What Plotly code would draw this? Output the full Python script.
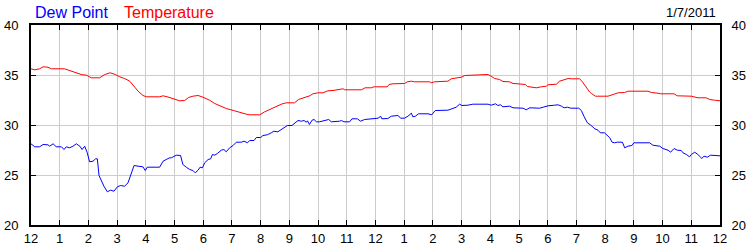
import plotly.graph_objects as go

# Hours since midnight (0..24) and readings
temp_hours = [0, 0.13, 0.3, 0.42, 0.59, 0.71, 1.17, 1.35, 1.52, 1.64, 1.75, 1.93, 2.1, 2.39, 2.57, 2.76,
              2.94, 3.09, 3.26, 3.44, 3.59, 3.73, 3.9, 4.02, 4.48, 4.6, 4.77, 5.0, 5.18, 5.35, 5.49, 5.64,
              5.82, 5.99, 6.22, 6.4, 6.63, 6.8, 7.09, 7.27, 7.5, 7.62, 7.97, 8.14, 8.31, 8.49, 8.72, 8.89,
              9.18, 9.32, 9.53, 9.71, 9.82, 10.0, 10.17, 10.34, 10.52, 10.69, 10.87, 10.93, 11.51, 11.64,
              11.85, 11.95, 12.41, 12.47, 12.61, 13.01, 13.11, 13.25, 13.36, 13.88, 13.96, 14.05, 14.52,
              14.64, 14.81, 14.99, 15.11, 15.34, 15.46, 15.92, 16.03, 16.15, 16.32, 16.44, 16.67, 16.79,
              16.96, 17.22, 17.29, 17.43, 17.6, 17.78, 17.95, 18.01, 18.3, 18.41, 18.59, 18.71, 18.82,
              19.11, 19.19, 19.28, 19.38, 19.46, 19.52, 19.66, 20.1, 20.27, 20.45, 20.68, 20.79, 21.49,
              21.61, 21.84, 21.93, 22.4, 22.51, 23.0, 23.23, 23.52, 23.64, 23.81, 24.0]
temperature = [35.62, 35.52, 35.62, 35.82, 35.78, 35.62, 35.62, 35.45, 35.28, 35.22, 35.05, 34.98, 34.72,
               34.72, 35.05, 35.22, 35.05, 34.82, 34.65, 34.38, 33.88, 33.38, 32.95, 32.82, 32.82, 32.92,
               32.8, 32.55, 32.42, 32.45, 32.75, 32.88, 32.95, 32.78, 32.48, 32.15, 31.82, 31.65, 31.42,
               31.25, 31.08, 31.02, 31.02, 31.32, 31.55, 31.82, 32.08, 32.22, 32.22, 32.55, 32.72, 32.92,
               33.12, 33.22, 33.22, 33.42, 33.45, 33.55, 33.62, 33.52, 33.52, 33.72, 33.72, 33.82, 33.82,
               34.05, 34.12, 34.15, 34.32, 34.38, 34.32, 34.32, 34.22, 34.32, 34.38, 34.62, 34.72, 34.78,
               34.95, 34.98, 35.05, 35.05, 34.88, 34.65, 34.55, 34.35, 34.32, 34.15, 34.12, 34.05, 33.85,
               33.82, 33.72, 33.82, 33.88, 34.02, 34.08, 34.38, 34.58, 34.65, 34.62, 34.62, 34.38, 33.98,
               33.55, 33.3, 33.15, 32.88, 32.88, 33.05, 33.22, 33.25, 33.38, 33.38, 33.25, 33.18, 33.12,
               33.12, 32.92, 32.88, 32.72, 32.72, 32.55, 32.48, 32.42]

dew_hours = [0, 0.13, 0.3, 0.42, 0.59, 0.65, 0.77, 0.88, 1.06, 1.15, 1.23, 1.35, 1.46, 1.58, 1.7, 1.78,
             1.87, 1.96, 2.04, 2.16, 2.25, 2.31, 2.37, 2.45, 2.54, 2.66, 2.77, 2.89, 3.01, 3.12, 3.26, 3.38,
             3.47, 3.59, 3.73, 3.9, 3.98, 4.05, 4.48, 4.6, 4.71, 4.83, 4.89, 5.06, 5.21, 5.29, 5.41, 5.53,
             5.64, 5.72, 5.82, 5.89, 5.97, 6.05, 6.17, 6.26, 6.32, 6.4, 6.49, 6.63, 6.72, 6.8, 6.92, 7.04,
             7.15, 7.33, 7.42, 7.54, 7.62, 7.77, 7.85, 8.0, 8.08, 8.23, 8.37, 8.46, 8.6, 8.72, 8.84, 8.93,
             9.09, 9.18, 9.3, 9.42, 9.51, 9.59, 9.63, 9.7, 9.79, 9.86, 9.94, 10.05, 10.17, 10.29, 10.37,
             10.46, 10.63, 10.75, 10.81, 10.9, 11.1, 11.18, 11.37, 11.48, 11.62, 11.91, 12.09, 12.18, 12.22,
             12.43, 12.55, 12.78, 12.88, 13.01, 13.13, 13.25, 13.3, 13.39, 13.5, 13.83, 13.96, 14.08, 14.52,
             14.66, 14.81, 14.93, 15.01, 15.22, 15.39, 15.92, 16.03, 16.18, 16.26, 16.35, 16.44, 16.67,
             16.79, 17.14, 17.25, 17.37, 17.72, 17.84, 18.01, 18.24, 18.36, 18.48, 18.57, 18.69, 18.8,
             19.08, 19.17, 19.26, 19.38, 19.5, 19.64, 19.75, 19.83, 19.98, 20.08, 20.16, 20.24, 20.33,
             20.42, 20.6, 20.68, 20.79, 20.93, 21.0, 21.55, 21.66, 21.9, 22.01, 22.19, 22.28, 22.4, 22.51,
             22.65, 22.71, 22.83, 22.94, 23.0, 23.12, 23.23, 23.37, 23.44, 23.56, 23.67, 23.87, 24.0]
dew_point = [28.12, 27.82, 27.82, 28.05, 28.02, 27.88, 28.12, 27.82, 27.82, 27.55, 27.82, 27.72, 27.88,
             28.12, 27.88, 27.55, 27.88, 27.22, 26.32, 26.38, 26.62, 26.62, 24.95, 24.38, 23.88, 23.32,
             23.48, 23.38, 23.82, 23.95, 23.88, 24.22, 25.0, 25.95, 25.88, 25.82, 25.45, 25.78, 25.78,
             26.38, 26.55, 26.72, 26.72, 26.98, 26.95, 26.05, 25.78, 25.55, 25.45, 25.22, 25.48, 25.78,
             25.72, 26.22, 26.55, 26.62, 27.05, 26.98, 27.15, 27.48, 27.55, 27.32, 27.72, 27.95, 28.28,
             28.28, 28.38, 28.22, 28.45, 28.45, 28.75, 28.75, 28.95, 29.02, 29.22, 29.38, 29.32, 29.55,
             29.82, 29.95, 29.95, 30.15, 30.45, 30.38, 30.45, 30.28, 30.42, 30.05, 30.48, 30.55, 30.32,
             30.32, 30.38, 30.48, 30.55, 30.32, 30.32, 30.38, 30.45, 30.32, 30.32, 30.62, 30.62, 30.38,
             30.55, 30.62, 30.68, 30.88, 30.62, 30.65, 30.88, 30.95, 30.68, 30.68, 30.88, 31.18, 30.82,
             30.88, 31.12, 31.12, 31.02, 31.45, 31.48, 31.62, 31.78, 32.08, 31.95, 31.98, 32.08, 32.08,
             31.98, 32.12, 31.95, 32.02, 31.82, 31.88, 31.72, 31.68, 31.52, 31.72, 31.68, 31.78, 31.92,
             31.98, 32.02, 31.88, 31.72, 31.78, 31.68, 31.68, 31.45, 30.88, 30.22, 29.98, 29.62, 29.48,
             29.22, 29.22, 28.95, 28.72, 28.28, 28.22, 28.28, 28.28, 27.72, 27.88, 27.95, 28.22, 28.22,
             27.98, 27.88, 27.65, 27.48, 27.28, 27.65, 27.48, 27.45, 27.22, 27.05, 26.82, 27.05, 27.28,
             27.05, 26.65, 26.88, 26.78, 26.98, 26.98, 26.92]

x_tick_vals = list(range(0, 25))
x_tick_text = ["12", "1", "2", "3", "4", "5", "6", "7", "8", "9", "10", "11",
               "12", "1", "2", "3", "4", "5", "6", "7", "8", "9", "10", "11", "12"]
y_tick_vals = [20, 25, 30, 35, 40]
date_label = "1/7/2011"

font_family = "Liberation Sans, Arial, sans-serif"

fig = go.Figure()
fig.add_trace(go.Scatter(x=dew_hours, y=dew_point, mode="lines", name="Dew Point",
                         line=dict(color="#0000ff", width=1), showlegend=False))
fig.add_trace(go.Scatter(x=temp_hours, y=temperature, mode="lines", name="Temperature",
                         line=dict(color="#ff0000", width=1), showlegend=False))
# invisible trace to carry the right-hand axis
fig.add_trace(go.Scatter(x=temp_hours, y=temperature, mode="lines", yaxis="y2",
                         line=dict(color="rgba(0,0,0,0)", width=0), showlegend=False,
                         hoverinfo="skip"))

axis_common = dict(showline=True, linecolor="#000000", linewidth=2, ticks="inside",
                   ticklen=5, tickcolor="#000000", tickwidth=1, automargin=False,
                   tickfont=dict(family=font_family, size=13, color="#000000"))

fig.update_layout(
    width=750, height=250,
    margin=dict(l=31, r=30, t=25, b=25),
    paper_bgcolor="white", plot_bgcolor="white",
    xaxis=dict(range=[0, 24], tickvals=x_tick_vals, ticktext=x_tick_text,
               showgrid=True, gridcolor="#cccccc", gridwidth=1, zeroline=False,
               mirror="ticks", **axis_common),
    yaxis=dict(range=[20, 40], tickvals=y_tick_vals, showgrid=True, gridcolor="#cccccc",
               gridwidth=1, zeroline=False, mirror="ticks", ticklabelstandoff=8, **axis_common),
    yaxis2=dict(range=[20, 40], tickvals=y_tick_vals, overlaying="y", side="right",
                showgrid=False, zeroline=False, ticklabelstandoff=7, **axis_common),
    annotations=[
        dict(text="Dew Point", x=(33 - 31) / 689, y=1 + (25 - 12) / 200, xref="paper", yref="paper",
             xanchor="left", yanchor="middle", showarrow=False,
             font=dict(family=font_family, size=16, color="#0000ff")),
        dict(text="Temperature", x=(122 - 31) / 689, y=1 + (25 - 12) / 200, xref="paper", yref="paper",
             xanchor="left", yanchor="middle", showarrow=False,
             font=dict(family=font_family, size=16, color="#ff0000")),
        dict(text=date_label, x=(718 - 31) / 689, y=1 + (25 - 12) / 200, xref="paper", yref="paper",
             xanchor="right", yanchor="middle", showarrow=False,
             font=dict(family=font_family, size=13, color="#000000")),
    ],
)

fig.write_html("out.html")
